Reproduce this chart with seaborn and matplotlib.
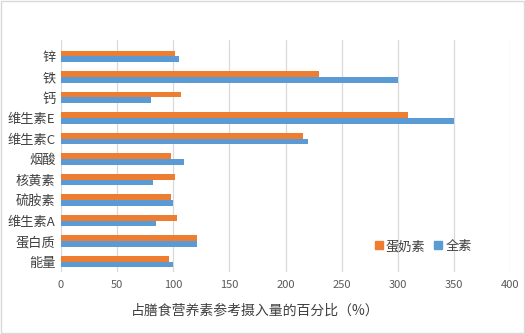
import matplotlib
matplotlib.use("Agg")
import matplotlib.pyplot as plt
import seaborn as sns
import pandas as pd
from matplotlib.patches import Rectangle
from matplotlib.lines import Line2D

nutrients = ["锌", "铁", "钙", "维生素E", "维生素C", "烟酸", "核黄素",
             "硫胺素", "维生素A", "蛋白质", "能量"]
lacto_ovo = [102, 230, 107, 309, 216, 98, 102, 98, 103, 121, 96]
vegan = [105, 300, 80, 350, 220, 110, 82, 100, 85, 121, 100]
series_names = ["蛋奶素", "全素"]
x_ticks = [0, 50, 100, 150, 200, 250, 300, 350, 400]
x_label = "占膳食营养素参考摄入量的百分比（%）"

colors = ["#ED7D31", "#5B9BD5"]

df = pd.DataFrame({
    "nutrient": nutrients * 2,
    "value": lacto_ovo + vegan,
    "series": [series_names[0]] * len(nutrients) + [series_names[1]] * len(nutrients),
})

sns.set_theme(style="white")
plt.rcParams["font.family"] = ["Noto Sans CJK SC", "DejaVu Sans"]

fig = plt.figure(figsize=(5.25, 3.34), dpi=100)
ax = fig.add_axes([61 / 525, 62 / 334, 449 / 525, 232 / 334])

sns.barplot(data=df, x="value", y="nutrient", hue="series", order=nutrients,
            hue_order=series_names, palette=colors, orient="h", width=0.56,
            saturation=1, linewidth=0, ax=ax, legend=False)

ax.set_xlim(0, 400)
ax.set_ylim(10.5, -0.8)
ax.set_xticks(x_ticks)
ax.set_xticklabels([str(t) for t in x_ticks], fontsize=8, color="#595959")
ax.tick_params(axis="y", labelsize=9.5, labelcolor="#404040", length=0, pad=4)
ax.tick_params(axis="x", length=0, pad=6)
ax.xaxis.grid(True, color="#D9D9D9", linewidth=0.9)
ax.set_axisbelow(True)
for s in ax.spines.values():
    s.set_visible(False)
ax.set_ylabel("")
ax.set_xlabel(x_label, fontsize=10, color="#404040", labelpad=9)
ax.xaxis.set_label_coords(0.432, -0.135)

handles = [Line2D([], [], marker="s", linestyle="", markersize=6,
                  markerfacecolor=c, markeredgecolor=c) for c in colors]
ax.legend(handles, series_names, loc="center", bbox_to_anchor=(0.805, 0.11),
          ncol=2, frameon=False, fontsize=9.5, handletextpad=0.1,
          columnspacing=0.5, handlelength=0.9, labelcolor="#404040")

fig.patches.append(Rectangle((0.001, 0.002), 0.997, 0.995, transform=fig.transFigure,
                             fill=False, edgecolor="#D9D9D9", linewidth=1))

fig.savefig("out.png", dpi=100)
